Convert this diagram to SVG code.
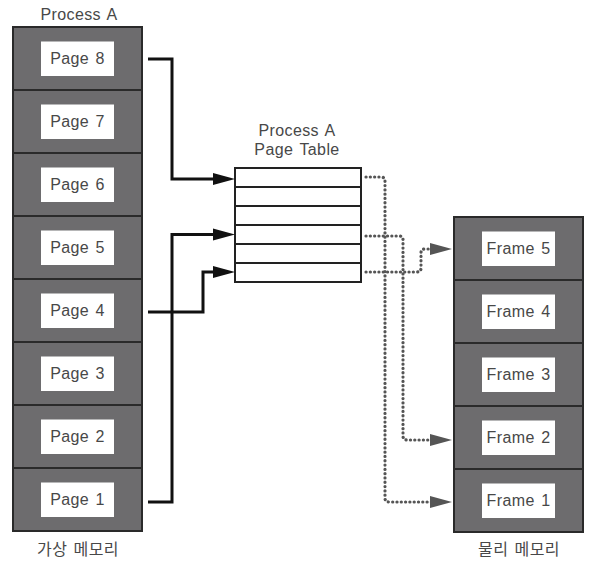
<svg xmlns="http://www.w3.org/2000/svg" width="600" height="566" viewBox="0 0 600 566">
<style>
text{font-family:"Liberation Sans",Arial,"Noto Sans CJK KR",sans-serif;font-size:16px;fill:#484848;text-anchor:middle;letter-spacing:0.4px;word-spacing:1.5px}
.cell{fill:#6d6c6e;stroke:#2a2a2a;stroke-width:2}
.lbl{fill:#fff}
.tbl{fill:#fff;stroke:#222;stroke-width:2}
.solid{fill:none;stroke:#111;stroke-width:3;stroke-linejoin:miter}
.dot{fill:none;stroke:#555;stroke-width:3.2;stroke-linecap:round;stroke-dasharray:0.1 4.2}
</style>
<defs>
<marker id="ab" markerUnits="userSpaceOnUse" markerWidth="22" markerHeight="14" refX="12" refY="7" orient="auto"><path d="M0,1 L22,7 L0,13 z" fill="#111"/></marker>
<marker id="ag" markerUnits="userSpaceOnUse" markerWidth="22" markerHeight="14" refX="12" refY="7" orient="auto"><path d="M0,1 L22,7 L0,13 z" fill="#555"/></marker>
</defs>
<text x="79" y="20">Process A</text>
<g id="virtual-memory">
<g id="page8"><rect class="cell" x="13" y="27" width="129" height="63"/><rect class="lbl" x="41" y="41.5" width="73" height="34.5"/><text x="77.5" y="64">Page 8</text></g>
<g id="page7"><rect class="cell" x="13" y="90" width="129" height="63"/><rect class="lbl" x="41" y="104.5" width="73" height="34.5"/><text x="77.5" y="127">Page 7</text></g>
<g id="page6"><rect class="cell" x="13" y="153" width="129" height="63"/><rect class="lbl" x="41" y="167.5" width="73" height="34.5"/><text x="77.5" y="190">Page 6</text></g>
<g id="page5"><rect class="cell" x="13" y="216" width="129" height="63"/><rect class="lbl" x="41" y="230.5" width="73" height="34.5"/><text x="77.5" y="253">Page 5</text></g>
<g id="page4"><rect class="cell" x="13" y="279" width="129" height="63"/><rect class="lbl" x="41" y="293.5" width="73" height="34.5"/><text x="77.5" y="316">Page 4</text></g>
<g id="page3"><rect class="cell" x="13" y="342" width="129" height="63"/><rect class="lbl" x="41" y="356.5" width="73" height="34.5"/><text x="77.5" y="379">Page 3</text></g>
<g id="page2"><rect class="cell" x="13" y="405" width="129" height="63"/><rect class="lbl" x="41" y="419.5" width="73" height="34.5"/><text x="77.5" y="442">Page 2</text></g>
<g id="page1"><rect class="cell" x="13" y="468" width="129" height="63"/><rect class="lbl" x="41" y="482.5" width="73" height="34.5"/><text x="77.5" y="505">Page 1</text></g>
</g>
<text x="78" y="555">가상 메모리</text>
<g id="page-table">
<text x="297" y="136">Process A</text>
<text x="297" y="155">Page Table</text>
<rect class="tbl" x="235" y="168" width="126" height="19"/>
<rect class="tbl" x="235" y="187" width="126" height="19"/>
<rect class="tbl" x="235" y="206" width="126" height="19"/>
<rect class="tbl" x="235" y="225" width="126" height="19"/>
<rect class="tbl" x="235" y="244" width="126" height="19"/>
<rect class="tbl" x="235" y="263" width="126" height="19"/>
</g>
<g id="physical-memory">
<g id="frame5"><rect class="cell" x="454" y="217" width="129" height="63"/><rect class="lbl" x="482" y="231.5" width="73" height="34.5"/><text x="518.5" y="254">Frame 5</text></g>
<g id="frame4"><rect class="cell" x="454" y="280" width="129" height="63"/><rect class="lbl" x="482" y="294.5" width="73" height="34.5"/><text x="518.5" y="317">Frame 4</text></g>
<g id="frame3"><rect class="cell" x="454" y="343" width="129" height="63"/><rect class="lbl" x="482" y="357.5" width="73" height="34.5"/><text x="518.5" y="380">Frame 3</text></g>
<g id="frame2"><rect class="cell" x="454" y="406" width="129" height="63"/><rect class="lbl" x="482" y="420.5" width="73" height="34.5"/><text x="518.5" y="443">Frame 2</text></g>
<g id="frame1"><rect class="cell" x="454" y="469" width="129" height="63"/><rect class="lbl" x="482" y="483.5" width="73" height="34.5"/><text x="518.5" y="506">Frame 1</text></g>
</g>
<text x="519" y="555">물리 메모리</text>
<g id="connectors">
<path class="solid" d="M148,59 H172 V179 H225" marker-end="url(#ab)"/>
<path class="solid" d="M148,502 H172 V234.5 H225" marker-end="url(#ab)"/>
<path class="solid" d="M148,312 H203 V272 H225" marker-end="url(#ab)"/>
<path class="dot" d="M366,177 H381 Q385,177 385,181 V498 Q385,502 389,502 H442" marker-end="url(#ag)"/>
<path class="dot" d="M366,236 H399 Q403,236 403,240 V436 Q403,440 407,440 H442" marker-end="url(#ag)"/>
<path class="dot" d="M366,272 H417 Q421,272 421,268 V253 Q421,249 425,249 H442" marker-end="url(#ag)"/>
</g>
</svg>
